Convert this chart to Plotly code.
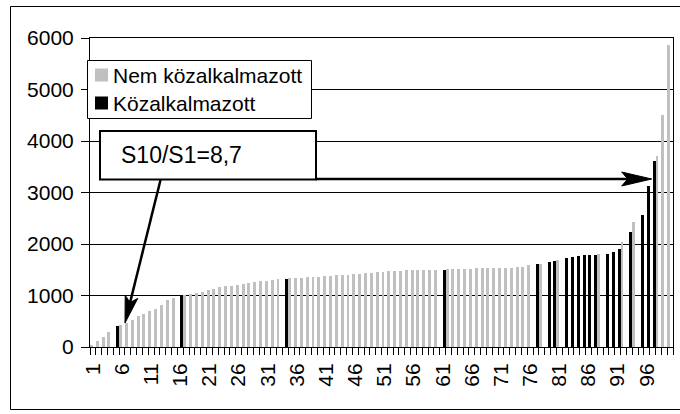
import math
import plotly.graph_objects as go

# Occupations ranked by average wage (rank 1 = lowest)
ranks = list(range(1, 101))

N = None
# Wage level of each rank, split by employment type (None = other group)
nem_kozalkalmazott = [
    20, 110, 185, 290, N, 420, 470, 530, 595, 640,
    695, 735, 810, 905, 945, N, 1005, 1030, 1050, 1075,
    1110, 1130, 1160, 1180, 1185, 1200, 1220, 1240, 1260, 1280,
    1285, 1300, 1315, N, 1335, 1338, 1340, 1355, 1358, 1360,
    1375, 1378, 1395, 1397, 1400, 1415, 1418, 1435, 1437, 1455,
    1457, 1472, 1474, 1476, 1490, 1492, 1493, 1494, 1495, 1496,
    N, 1510, 1512, 1513, 1514, 1515, 1530, 1532, 1533, 1534,
    1535, 1536, 1538, 1545, 1548, 1585, N, 1610, N, N,
    1695, N, N, N, N, N, N, 1800, N, N,
    N, 2030, N, 2430, N, N, N, 3700, 4510, 5860,
]
kozalkalmazott = [
    N, N, N, N, 400, N, N, N, N, N,
    N, N, N, N, N, 1000, N, N, N, N,
    N, N, N, N, N, N, N, N, N, N,
    N, N, N, 1320, N, N, N, N, N, N,
    N, N, N, N, N, N, N, N, N, N,
    N, N, N, N, N, N, N, N, N, N,
    1495, N, N, N, N, N, N, N, N, N,
    N, N, N, N, N, N, 1605, N, 1650, 1675,
    N, 1720, 1755, 1770, 1780, 1790, 1795, N, 1815, 1840,
    1900, N, 2230, N, 2560, 3130, 3620, N, N, N,
]

series_names = ["Nem közalkalmazott", "Közalkalmazott"]
series_colors = ["#C0C0C0", "#000000"]
x_tick_vals = list(range(1, 100, 5))
x_tick_text = [str(v) for v in x_tick_vals]
y_tick_vals = [0, 1000, 2000, 3000, 4000, 5000, 6000]
ratio_label = "S10/S1=8,7"

FONT = "Liberation Sans, Arial, sans-serif"
W, H = 680, 414
ML, MR, MT, MB = 90, 7, 38, 67
PW = W - ML - MR
PH = H - MT - MB


def px_x(px):
    return (px - ML) / PW


def px_y(py):
    return (H - MB - py) / PH


def rect(x0, y0, x1, y1, line_color, line_width, fill):
    return dict(type="rect", xref="paper", yref="paper",
                x0=px_x(x0), x1=px_x(x1), y0=px_y(y1), y1=px_y(y0),
                line=dict(color=line_color, width=line_width),
                fillcolor=fill, layer="above")


def path(points):
    return "M " + " L ".join(f"{px_x(x):.5f},{px_y(y):.5f}" for x, y in points) + " Z"


def arrow_head(tip, tail, length, half_width, notch):
    ux, uy = tip[0] - tail[0], tip[1] - tail[1]
    d = math.hypot(ux, uy)
    ux, uy = ux / d, uy / d
    nx, ny = -uy, ux
    bx, by = tip[0] - length * ux, tip[1] - length * uy
    kx, ky = tip[0] - notch * ux, tip[1] - notch * uy
    pts = [tip, (bx + half_width * nx, by + half_width * ny), (kx, ky),
           (bx - half_width * nx, by - half_width * ny)]
    return path(pts), (kx, ky)


fig = go.Figure()
for name, color, values in zip(series_names, series_colors,
                               [nem_kozalkalmazott, kozalkalmazott]):
    fig.add_trace(go.Bar(x=ranks, y=values, name=name, showlegend=False,
                         marker=dict(color=color, line=dict(width=0))))

shapes = []
annotations = []

# outer chart frame
shapes.append(rect(10.5, 6.5, 700, 409.5, "black", 1, "rgba(0,0,0,0)"))

# legend box with colour keys
shapes.append(rect(87.5, 60.5, 311.5, 118.5, "black", 1, "white"))
for i, (name, color) in enumerate(zip(series_names, series_colors)):
    top = 68.5 + 28 * i
    shapes.append(rect(95, top, 108, top + 13, color, 0, color))
    annotations.append(dict(xref="paper", yref="paper", x=px_x(111), y=px_y(top + 7),
                            xanchor="left", yanchor="middle", showarrow=False,
                            text=name, font=dict(family=FONT, size=21, color="black")))

# ratio callout box
shapes.append(rect(100, 131, 316, 179.5, "black", 2, "white"))
annotations.append(dict(xref="paper", yref="paper", x=px_x(119), y=px_y(155),
                        xanchor="left", yanchor="middle", showarrow=False,
                        text=ratio_label, font=dict(family=FONT, size=23, color="black")))

# arrow to the top decile
h_tail, h_tip = (316, 179), (651.7, 179)
h_head, h_notch = arrow_head(h_tip, h_tail, 30, 7, 24)
shapes.append(dict(type="line", xref="paper", yref="paper",
                   x0=px_x(h_tail[0]), y0=px_y(h_tail[1]),
                   x1=px_x(h_notch[0]), y1=px_y(h_notch[1]),
                   line=dict(color="black", width=2.5), layer="above"))
shapes.append(dict(type="path", xref="paper", yref="paper", path=h_head,
                   fillcolor="black", line=dict(color="black", width=1), layer="above"))

# arrow to the bottom decile
s_tail, s_tip = (160.5, 180), (125, 323)
s_head, s_notch = arrow_head(s_tip, s_tail, 27, 6.5, 21)
shapes.append(dict(type="line", xref="paper", yref="paper",
                   x0=px_x(s_tail[0]), y0=px_y(s_tail[1]),
                   x1=px_x(s_notch[0]), y1=px_y(s_notch[1]),
                   line=dict(color="black", width=2.5), layer="above"))
shapes.append(dict(type="path", xref="paper", yref="paper", path=s_head,
                   fillcolor="black", line=dict(color="black", width=1), layer="above"))

fig.update_layout(
    width=W, height=H,
    margin=dict(l=ML, r=MR, t=MT, b=MB, pad=0),
    paper_bgcolor="white", plot_bgcolor="white",
    barmode="group", bargap=0, bargroupgap=0,
    font=dict(family=FONT, size=21, color="black"),
    showlegend=False,
    shapes=shapes,
    annotations=annotations,
)

fig.update_xaxes(
    range=[0.5, 100.5], tickmode="array", tickvals=x_tick_vals, ticktext=x_tick_text,
    tickangle=-90, ticks="", showgrid=False, zeroline=False,
    showline=True, linecolor="black", linewidth=1, mirror=True,
    ticklabelstandoff=7,
    tickfont=dict(family=FONT, size=21, color="black"),
    minor=dict(tickmode="array", tickvals=[r - 0.5 for r in ranks] + [100.5],
               ticks="outside", ticklen=7, tickwidth=1, tickcolor="black",
               showgrid=False),
)
fig.update_yaxes(
    range=[0, 6000], tickmode="array", tickvals=y_tick_vals,
    ticks="outside", ticklen=8, tickwidth=1, tickcolor="black",
    showgrid=True, gridcolor="black", gridwidth=1, zeroline=False,
    showline=True, linecolor="black", linewidth=1, mirror=True,
    ticklabelstandoff=3,
    tickfont=dict(family=FONT, size=21, color="black"),
)

fig.write_html("out.html")
